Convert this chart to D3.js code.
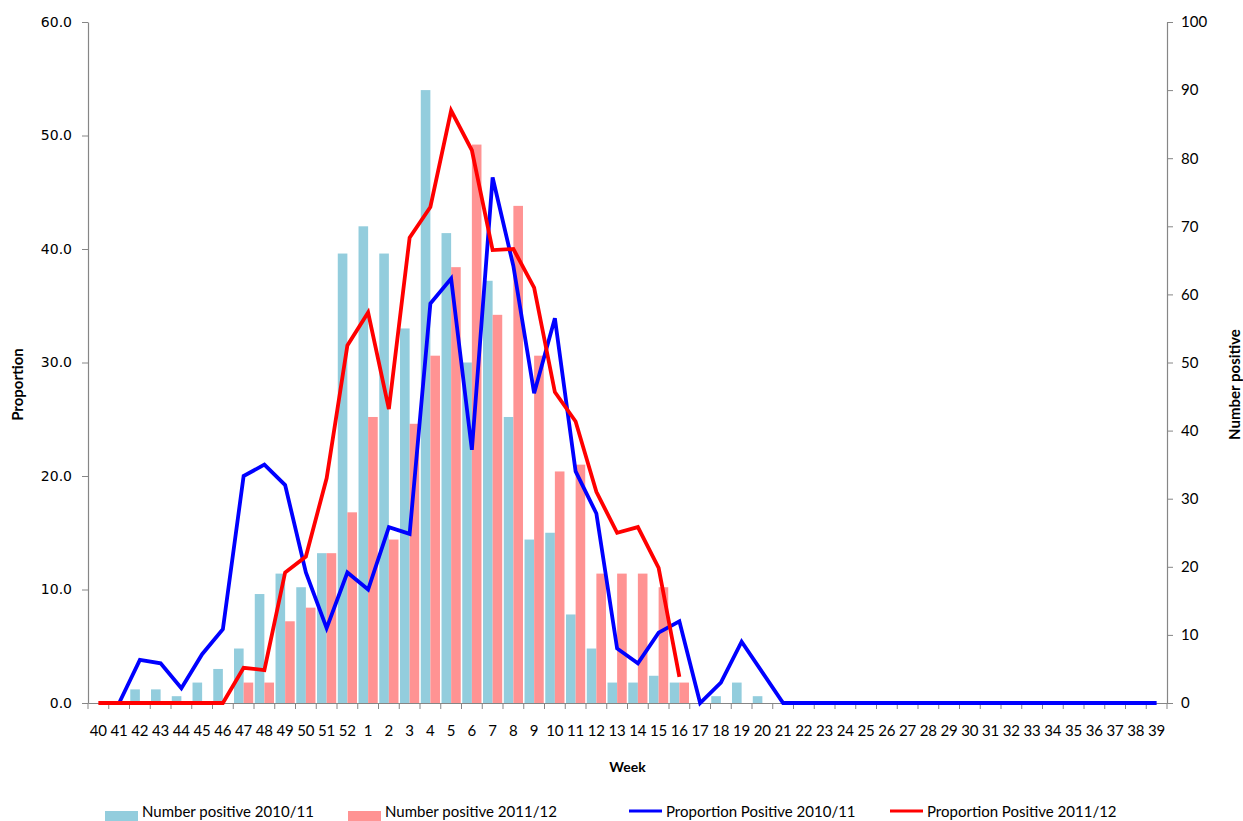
<!DOCTYPE html>
<html lang="en">
<head>
  <meta charset="UTF-8">
  <title>Number and proportion positive by week</title>
  <script src="https://d3js.org/d3.v7.min.js"></script>
  <style>
    body { margin: 0; background: #fff; }
    text { font-family: Lato, "Open Sans", sans-serif; fill: #000; }
  </style>
</head>
<body>
  <svg id="chart" width="1243" height="821"></svg>
  <script>
    // weeks of the season, week 40 to week 39
    const weeks = [40, 41, 42, 43, 44, 45, 46, 47, 48, 49, 50, 51, 52,
      1, 2, 3, 4, 5, 6, 7, 8, 9, 10, 11, 12, 13, 14, 15, 16, 17, 18, 19, 20,
      21, 22, 23, 24, 25, 26, 27, 28, 29, 30, 31, 32, 33, 34, 35, 36, 37, 38, 39];

    // number positive (right axis)
    const number2010 = [0, 0, 2, 2, 1, 3, 5, 8, 16, 19, 17, 22, 66,
      70, 66, 55, 90, 69, 50, 62, 42, 24, 25, 13, 8, 3, 3, 4, 3, 0, 1, 3, 1,
      0, 0, 0, 0, 0, 0, 0, 0, 0, 0, 0, 0, 0, 0, 0, 0, 0, 0, 0];
    const number2011 = [0, 0, 0, 0, 0, 0, 0, 3, 3, 12, 14, 22, 28,
      42, 24, 41, 51, 64, 82, 57, 73, 51, 34, 35, 19, 19, 19, 17, 3, 0, 0, 0, 0,
      0, 0, 0, 0, 0, 0, 0, 0, 0, 0, 0, 0, 0, 0, 0, 0, 0, 0, 0];

    // proportion positive (left axis)
    const prop2010 = [null, 0, 3.8, 3.5, 1.3, 4.3, 6.5, 20.0, 21.0, 19.2, 11.5, 6.6, 11.5,
      10.0, 15.5, 14.9, 35.2, 37.4, 22.3, 46.3, 38.5, 27.3, 33.9, 20.4, 16.7, 4.8, 3.5, 6.2, 7.2,
      0, 1.8, 5.4, 2.7,
      0, 0, 0, 0, 0, 0, 0, 0, 0, 0, 0, 0, 0, 0, 0, 0, 0, 0, 0];
    const prop2011 = [0, 0, 0, 0, 0, 0, 0, 3.1, 2.9, 11.5, 12.9, 19.8, 31.5,
      34.4, 25.9, 41.0, 43.7, 52.2, 48.7, 39.9, 40.0, 36.6, 27.4, 24.8, 18.6, 15.0, 15.5, 11.9, 2.3,
      null, null, null, null,
      null, null, null, null, null, null, null, null, null, null, null, null, null, null, null, null, null, null, null];

    const propTicks = [0, 10, 20, 30, 40, 50, 60];
    const numberTicks = [0, 10, 20, 30, 40, 50, 60, 70, 80, 90, 100];

    const barSeries = [
      { name: 'Number positive 2010/11', values: number2010, color: '#93cddd' },
      { name: 'Number positive 2011/12', values: number2011, color: '#ff9393' }
    ];
    const lineSeries = [
      { name: 'Proportion Positive 2010/11', values: prop2010, color: '#0000ff' },
      { name: 'Proportion Positive 2011/12', values: prop2011, color: '#ff0000' }
    ];

    const svg = d3.select('#chart');
    const margin = { top: 22, right: 76, bottom: 118, left: 88 };
    const width = 1243 - margin.left - margin.right;
    const height = 821 - margin.top - margin.bottom;
    const g = svg.append('g').attr('transform', `translate(${margin.left},${margin.top})`);

    const x = d3.scaleBand().domain(d3.range(weeks.length)).range([0, width]).padding(0);
    const xInner = d3.scaleBand().domain(d3.range(barSeries.length))
      .range([0, x.bandwidth()]).paddingInner(0).paddingOuter(0.08);
    const yLeft = d3.scaleLinear().domain([0, 60]).range([height, 0]);
    const yRight = d3.scaleLinear().domain([0, 100]).range([height, 0]);

    const axisColor = '#868686';

    // bars
    barSeries.forEach((s, si) => {
      g.append('g').selectAll('rect')
        .data(s.values)
        .join('rect')
        .attr('x', (d, i) => x(i) + xInner(si))
        .attr('width', xInner.bandwidth())
        .attr('y', d => yRight(d))
        .attr('height', d => height - yRight(d))
        .attr('fill', s.color);
    });

    // left axis
    const axL = g.append('g')
      .call(d3.axisLeft(yLeft).tickValues(propTicks).tickFormat(d3.format('.1f')).tickSize(6).tickSizeOuter(0));
    axL.selectAll('text').style('font-family', '"DejaVu Sans", sans-serif').style('font-size', '14px').attr('x', -16);

    // right axis
    const axR = g.append('g').attr('transform', `translate(${width},0)`)
      .call(d3.axisRight(yRight).tickValues(numberTicks).tickSize(6).tickSizeOuter(0));
    axR.selectAll('text').style('font-size', '15px').attr('x', 14);

    // x axis
    const axX = g.append('g').attr('transform', `translate(0,${height})`)
      .call(d3.axisBottom(x).tickFormat(i => weeks[i]).tickSize(0).tickSizeOuter(0));
    axX.selectAll('text').style('font-size', '15px').attr('y', 22);
    axX.selectAll('.tick line').remove();
    axX.append('g').selectAll('line')
      .data(d3.range(weeks.length + 1))
      .join('line')
      .attr('x1', i => i * x.step()).attr('x2', i => i * x.step())
      .attr('y1', 0).attr('y2', 6)
      .attr('stroke', axisColor);

    [axL, axR, axX].forEach(a => {
      a.select('.domain').attr('stroke', axisColor).attr('stroke-width', 1.2);
      a.selectAll('line').attr('stroke', axisColor);
    });

    // lines
    lineSeries.forEach(s => {
      const line = d3.line()
        .defined(d => d != null)
        .x((d, i) => x(i) + x.bandwidth() / 2)
        .y(d => yLeft(d));
      g.append('path')
        .datum(s.values)
        .attr('fill', 'none')
        .attr('stroke', s.color)
        .attr('stroke-width', 3.8)
        .attr('stroke-linejoin', 'miter')
        .attr('d', line);
    });

    // axis titles
    svg.append('text')
      .attr('x', margin.left + width / 2).attr('y', 772)
      .attr('text-anchor', 'middle')
      .style('font-size', '14px').style('font-weight', 'bold')
      .text('Week');
    svg.append('text')
      .attr('transform', `translate(23,${margin.top + height / 2 + 22}) rotate(-90)`)
      .attr('text-anchor', 'middle')
      .style('font-size', '15px').style('font-weight', 'bold')
      .text('Proportion');
    svg.append('text')
      .attr('transform', `translate(1240,${margin.top + height / 2 + 22}) rotate(-90)`)
      .attr('text-anchor', 'middle')
      .style('font-size', '15px').style('font-weight', 'bold')
      .text('Number positive');

    // legend
    const legendX = [105, 348, 629, 890];
    const legendItems = [...barSeries.map(s => ({ ...s, type: 'bar' })), ...lineSeries.map(s => ({ ...s, type: 'line' }))];
    const legend = svg.append('g');
    legendItems.forEach((d, i) => {
      const item = legend.append('g').attr('transform', `translate(${legendX[i]},811)`);
      if (d.type === 'bar') {
        item.append('rect').attr('x', 0).attr('y', 0).attr('width', 33).attr('height', 10).attr('fill', d.color);
      } else {
        item.append('line').attr('x1', 0).attr('x2', 33).attr('y1', 0).attr('y2', 0)
          .attr('stroke', d.color).attr('stroke-width', 3);
      }
      item.append('text').attr('x', 37).attr('y', 5.5)
        .style('font-size', '15px')
        .text(d.name);
    });
  </script>
</body>
</html>
